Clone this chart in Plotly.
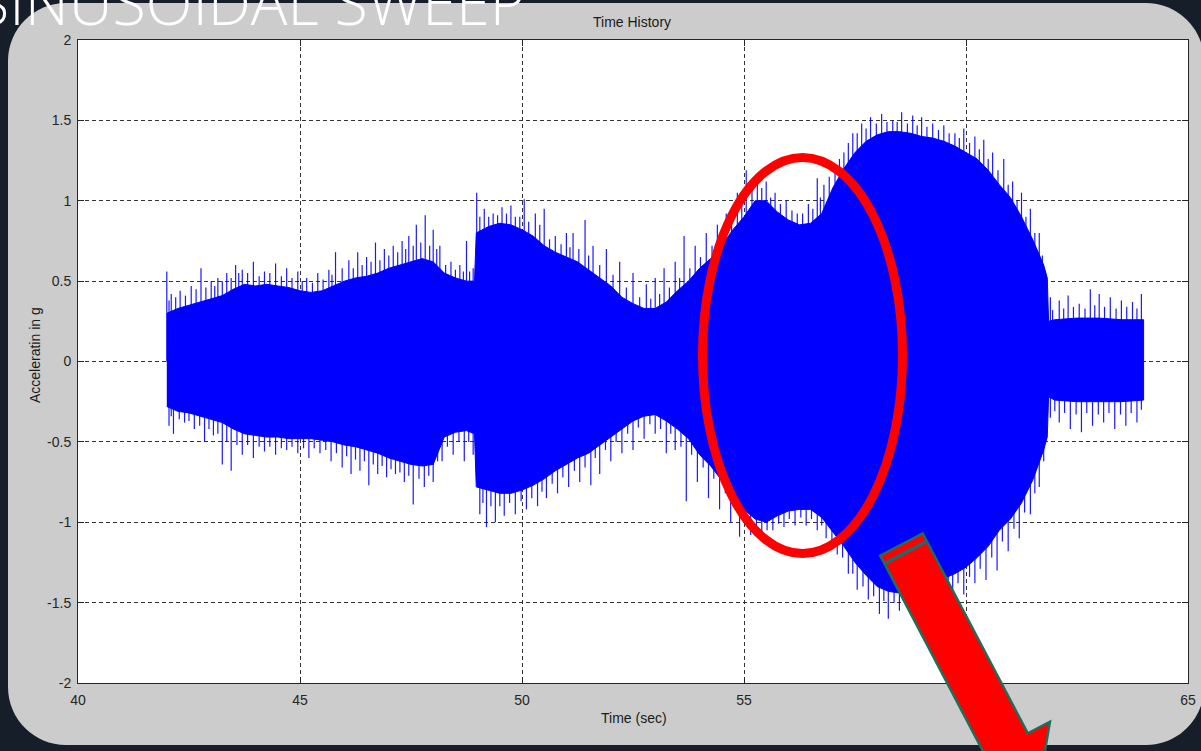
import plotly.graph_objects as go

W, H = 1201, 751

# ---------------- data ----------------
# solid envelope of the acceleration record
time_s = [42.00, 42.25, 42.50, 42.75, 43.00, 43.25, 43.50, 43.75, 44.00, 44.25,
          44.50, 44.75, 45.00, 45.25, 45.50, 45.75, 46.00, 46.25, 46.50, 46.75,
          47.00, 47.25, 47.50, 47.75, 48.00, 48.25, 48.50, 48.75, 48.93, 48.97,
          49.25, 49.50, 49.75, 50.00, 50.25, 50.50, 50.75, 51.00, 51.25, 51.50,
          51.75, 52.00, 52.25, 52.50, 52.75, 53.00, 53.25, 53.50, 53.75, 54.00,
          54.25, 54.50, 54.75, 55.00, 55.25, 55.50, 55.75, 56.00, 56.25, 56.50,
          56.75, 57.00, 57.25, 57.50, 57.75, 58.00, 58.25, 58.50, 58.75, 59.00,
          59.25, 59.50, 59.75, 60.00, 60.25, 60.50, 60.75, 61.00, 61.25, 61.50,
          61.75, 61.83, 61.86, 62.00, 62.50, 63.00, 63.50, 64.00]
upper_g = [0.30, 0.33, 0.35, 0.37, 0.39, 0.41, 0.45, 0.48, 0.47, 0.48,
           0.47, 0.46, 0.44, 0.43, 0.44, 0.47, 0.50, 0.52, 0.53, 0.55,
           0.58, 0.60, 0.62, 0.64, 0.62, 0.55, 0.52, 0.50, 0.50, 0.80,
           0.84, 0.86, 0.85, 0.82, 0.78, 0.72, 0.68, 0.65, 0.62, 0.57,
           0.52, 0.47, 0.40, 0.36, 0.33, 0.33, 0.37, 0.44, 0.50, 0.58,
           0.64, 0.72, 0.82, 0.90, 1.00, 1.00, 0.93, 0.88, 0.85, 0.86,
           0.92, 1.08, 1.20, 1.30, 1.37, 1.41, 1.43, 1.43, 1.42, 1.40,
           1.39, 1.37, 1.34, 1.30, 1.26, 1.19, 1.10, 1.02, 0.90, 0.76,
           0.60, 0.52, 0.25, 0.26, 0.27, 0.27, 0.26, 0.26]
lower_g = [-0.28, -0.31, -0.32, -0.34, -0.36, -0.38, -0.42, -0.45, -0.46, -0.47,
           -0.47, -0.48, -0.48, -0.48, -0.49, -0.50, -0.52, -0.53, -0.55, -0.57,
           -0.60, -0.62, -0.64, -0.65, -0.64, -0.47, -0.44, -0.43, -0.45, -0.78,
           -0.80, -0.82, -0.82, -0.80, -0.77, -0.73, -0.68, -0.64, -0.60, -0.57,
           -0.52, -0.47, -0.42, -0.37, -0.34, -0.33, -0.37, -0.42, -0.48, -0.58,
           -0.65, -0.74, -0.84, -0.92, -0.98, -1.00, -0.96, -0.93, -0.92, -0.92,
           -0.97, -1.06, -1.15, -1.25, -1.33, -1.40, -1.43, -1.44, -1.42, -1.40,
           -1.38, -1.35, -1.32, -1.28, -1.22, -1.15, -1.05, -0.98, -0.88, -0.74,
           -0.55, -0.47, -0.22, -0.24, -0.25, -0.25, -0.25, -0.24]

# tallest isolated peaks above the envelope
peak_up_t = [42.00, 42.10, 42.30, 42.55, 42.77, 43.00, 43.15, 43.35, 43.55, 43.70,
             43.95, 44.20, 44.45, 44.70, 44.95, 45.15, 45.40, 45.65, 45.80, 46.10,
             46.30, 46.50, 46.70, 46.90, 47.10, 47.30, 47.45, 47.62, 47.82, 48.00,
             48.15, 48.40, 48.60, 48.75, 48.90, 48.98, 49.15, 49.35, 49.55, 49.75,
             49.95, 50.05, 50.30, 50.50, 50.75, 51.00, 51.15, 51.42, 51.60, 51.90,
             52.20, 52.50, 52.80, 53.00, 53.20, 53.45, 53.65, 53.90, 54.15, 54.40,
             54.60, 54.85, 55.05, 55.30, 55.50, 55.70, 55.95, 56.20, 56.45, 56.65,
             56.80, 57.05, 57.25, 57.45, 57.65, 57.85, 58.10, 58.35, 58.55, 58.80,
             59.00, 59.25, 59.50, 59.75, 59.95, 60.20, 60.40, 60.60, 60.85, 61.05,
             61.25, 61.45, 61.65, 61.90, 62.10, 62.30, 62.55, 62.80, 63.00, 63.25,
             63.50, 63.75, 63.95]
peak_up_g = [0.56, 0.42, 0.44, 0.47, 0.58, 0.50, 0.52, 0.55, 0.60, 0.57,
             0.62, 0.56, 0.61, 0.58, 0.56, 0.52, 0.55, 0.57, 0.68, 0.63,
             0.68, 0.65, 0.74, 0.70, 0.72, 0.75, 0.78, 0.85, 0.91, 0.82,
             0.72, 0.62, 0.60, 0.75, 0.58, 1.05, 0.95, 0.92, 0.96, 0.97,
             0.90, 1.01, 0.92, 0.95, 0.78, 0.80, 0.80, 0.88, 0.72, 0.70,
             0.62, 0.55, 0.48, 0.52, 0.58, 0.62, 0.78, 0.72, 0.80, 0.85,
             0.92, 1.05, 1.19, 1.15, 1.12, 1.05, 1.00, 0.92, 0.98, 1.14,
             1.10, 1.22, 1.30, 1.42, 1.48, 1.52, 1.54, 1.50, 1.55, 1.53,
             1.52, 1.48, 1.47, 1.42, 1.45, 1.40, 1.38, 1.30, 1.26, 1.12,
             1.05, 0.95, 0.80, 0.40, 0.38, 0.41, 0.36, 0.45, 0.42, 0.40,
             0.38, 0.37, 0.42]

# smaller peaks fringing the upper edge
fringe_up_t = [42.05, 42.20, 42.42, 42.66, 42.88, 43.08, 43.25, 43.45, 43.62, 43.82,
               44.08, 44.32, 44.58, 44.82, 45.05, 45.28, 45.52, 45.72, 45.95, 46.20,
               46.40, 46.60, 46.80, 47.00, 47.20, 47.38, 47.55, 47.72, 47.92, 48.08,
               48.28, 48.50, 48.68, 48.82, 49.05, 49.25, 49.45, 49.65, 49.85, 50.15,
               50.40, 50.62, 50.88, 51.08, 51.28, 51.50, 51.75, 52.05, 52.35, 52.65,
               52.90, 53.10, 53.32, 53.55, 53.78, 54.02, 54.28, 54.50, 54.72, 54.95,
               55.18, 55.40, 55.60, 55.82, 56.08, 56.32, 56.55, 56.72, 56.92, 57.15,
               57.35, 57.55, 57.75, 57.98, 58.22, 58.45, 58.68, 58.90, 59.12, 59.38,
               59.62, 59.85, 60.08, 60.30, 60.50, 60.72, 60.95, 61.15, 61.35, 61.55,
               61.72, 61.95, 62.20, 62.42, 62.68, 62.90, 63.12, 63.38, 63.62, 63.85]
fringe_up_g = [0.38, 0.40, 0.41, 0.45, 0.46, 0.47, 0.50, 0.52, 0.55, 0.55,
               0.53, 0.55, 0.53, 0.52, 0.50, 0.49, 0.51, 0.54, 0.58, 0.58,
               0.60, 0.62, 0.63, 0.66, 0.68, 0.70, 0.72, 0.74, 0.72, 0.70,
               0.60, 0.57, 0.56, 0.56, 0.90, 0.90, 0.91, 0.92, 0.90, 0.87,
               0.85, 0.76, 0.73, 0.71, 0.70, 0.66, 0.60, 0.54, 0.46, 0.40,
               0.39, 0.42, 0.46, 0.52, 0.58, 0.65, 0.72, 0.79, 0.88, 0.98,
               1.07, 1.08, 1.02, 0.98, 0.94, 0.92, 0.95, 1.02, 1.15, 1.26,
               1.36, 1.42, 1.45, 1.48, 1.49, 1.49, 1.48, 1.47, 1.46, 1.44,
               1.42, 1.39, 1.36, 1.32, 1.26, 1.19, 1.10, 1.00, 0.90, 0.80,
               0.66, 0.32, 0.33, 0.34, 0.33, 0.35, 0.34, 0.33, 0.34, 0.33]

# deepest isolated peaks below the envelope
peak_dn_t = [42.05, 42.15, 42.40, 42.62, 42.85, 43.05, 43.25, 43.45, 43.70, 43.95,
             44.20, 44.45, 44.70, 44.95, 45.20, 45.45, 45.70, 45.95, 46.15, 46.35,
             46.55, 46.75, 46.95, 47.15, 47.35, 47.55, 47.80, 48.00, 48.20, 48.45,
             48.70, 48.90, 49.05, 49.20, 49.40, 49.60, 49.85, 50.10, 50.35, 50.55,
             50.80, 51.05, 51.30, 51.55, 51.75, 52.00, 52.25, 52.50, 52.75, 53.00,
             53.25, 53.45, 53.70, 53.95, 54.20, 54.45, 54.70, 54.90, 55.15, 55.40,
             55.65, 55.90, 56.15, 56.40, 56.65, 56.85, 57.10, 57.35, 57.55, 57.80,
             58.05, 58.25, 58.50, 58.75, 59.00, 59.25, 59.50, 59.70, 59.95, 60.20,
             60.45, 60.70, 60.95, 61.20, 61.45, 61.65, 61.90, 62.10, 62.35, 62.60,
             62.85, 63.10, 63.35, 63.60, 63.85]
peak_dn_g = [-0.40, -0.45, -0.38, -0.42, -0.50, -0.46, -0.64, -0.68, -0.58, -0.60,
             -0.56, -0.58, -0.55, -0.57, -0.60, -0.57, -0.62, -0.66, -0.70, -0.68,
             -0.77, -0.70, -0.72, -0.70, -0.75, -0.89, -0.78, -0.75, -0.62, -0.58,
             -0.62, -0.58, -0.95, -1.03, -1.00, -0.96, -0.95, -0.92, -0.90, -0.85,
             -0.82, -0.78, -0.75, -0.77, -0.70, -0.62, -0.57, -0.55, -0.48, -0.45,
             -0.57, -0.55, -0.87, -0.75, -0.85, -0.92, -1.00, -1.09, -1.08, -1.06,
             -1.05, -1.03, -1.02, -1.02, -1.05, -1.10, -1.20, -1.32, -1.42, -1.48,
             -1.57, -1.60, -1.55, -1.53, -1.50, -1.50, -1.46, -1.42, -1.45, -1.38,
             -1.36, -1.30, -1.18, -1.10, -0.95, -0.78, -0.35, -0.38, -0.42, -0.44,
             -0.40, -0.38, -0.42, -0.40, -0.38]

# smaller peaks fringing the lower edge
fringe_dn_t = [42.10, 42.28, 42.50, 42.74, 42.95, 43.15, 43.35, 43.58, 43.82, 44.08,
               44.32, 44.58, 44.82, 45.08, 45.32, 45.58, 45.82, 46.05, 46.25, 46.45,
               46.65, 46.85, 47.05, 47.25, 47.45, 47.68, 47.90, 48.10, 48.32, 48.58,
               48.80, 49.12, 49.30, 49.50, 49.72, 49.98, 50.22, 50.45, 50.68, 50.92,
               51.18, 51.42, 51.65, 51.88, 52.12, 52.38, 52.62, 52.88, 53.12, 53.35,
               53.58, 53.82, 54.08, 54.32, 54.58, 54.80, 55.02, 55.28, 55.52, 55.78,
               56.02, 56.28, 56.52, 56.75, 56.98, 57.22, 57.45, 57.68, 57.92, 58.15,
               58.38, 58.62, 58.88, 59.12, 59.38, 59.60, 59.82, 60.08, 60.32, 60.58,
               60.82, 61.08, 61.32, 61.55, 61.75, 62.00, 62.22, 62.48, 62.72, 62.98,
               63.22, 63.48, 63.72, 63.95]
fringe_dn_g = [-0.34, -0.36, -0.37, -0.40, -0.42, -0.45, -0.50, -0.52, -0.52, -0.53,
               -0.53, -0.54, -0.53, -0.54, -0.54, -0.55, -0.57, -0.59, -0.61, -0.62,
               -0.64, -0.65, -0.67, -0.69, -0.71, -0.73, -0.71, -0.62, -0.53, -0.50,
               -0.50, -0.88, -0.90, -0.90, -0.88, -0.87, -0.85, -0.81, -0.76, -0.72,
               -0.68, -0.66, -0.60, -0.55, -0.50, -0.45, -0.41, -0.39, -0.42, -0.45,
               -0.53, -0.58, -0.66, -0.73, -0.82, -0.92, -0.99, -1.04, -1.05, -1.01,
               -0.98, -0.97, -0.98, -1.02, -1.12, -1.22, -1.32, -1.40, -1.46, -1.49,
               -1.50, -1.49, -1.47, -1.45, -1.42, -1.40, -1.38, -1.34, -1.29, -1.22,
               -1.12, -1.04, -0.94, -0.82, -0.62, -0.31, -0.32, -0.33, -0.32, -0.33,
               -0.32, -0.33, -0.32, -0.30]

x_tick_vals = [40, 45, 50, 55, 60, 65]
x_tick_text = ["40", "45", "50", "55", "60", "65"]
y_tick_vals = [-2, -1.5, -1, -0.5, 0, 0.5, 1, 1.5, 2]
y_tick_text = ["-2", "-1.5", "-1", "-0.5", "0", "0.5", "1", "1.5", "2"]

# ---------------- helpers (pixel -> paper) ----------------
def px(x):
    return x / W


def py(y):
    return 1 - y / H


def P(x, y):
    return f"{px(x):.5f},{py(y):.5f}"


def rounded_rect(x0, y0, x1, y1, r):
    k = 0.5523 * r
    return (f"M{P(x0 + r, y0)} L{P(x1 - r, y0)} "
            f"C{P(x1 - r + k, y0)} {P(x1, y0 + r - k)} {P(x1, y0 + r)} "
            f"L{P(x1, y1 - r)} "
            f"C{P(x1, y1 - r + k)} {P(x1 - r + k, y1)} {P(x1 - r, y1)} "
            f"L{P(x0 + r, y1)} "
            f"C{P(x0 + r - k, y1)} {P(x0, y1 - r + k)} {P(x0, y1 - r)} "
            f"L{P(x0, y0 + r)} "
            f"C{P(x0, y0 + r - k)} {P(x0 + r - k, y0)} {P(x0 + r, y0)} Z")


def segments(ts, vs):
    xs, ys = [], []
    for t, v in zip(ts, vs):
        xs += [t, t, None]
        ys += [0, v, None]
    return xs, ys


# plot frame in pixels
L, R, T, B = 78, 1188, 40, 683

# ---------------- traces ----------------
fig = go.Figure()

fig.add_trace(go.Scatter(
    x=time_s + time_s[::-1],
    y=upper_g + lower_g[::-1],
    fill="toself", fillcolor="#0000ff",
    line=dict(color="#0000ff", width=1),
    mode="lines", hoverinfo="skip", showlegend=False))

for ts, vs in [(fringe_up_t, fringe_up_g), (fringe_dn_t, fringe_dn_g),
               (peak_up_t, peak_up_g), (peak_dn_t, peak_dn_g)]:
    sx, sy = segments(ts, vs)
    fig.add_trace(go.Scatter(
        x=sx, y=sy, mode="lines",
        line=dict(color="rgba(0,0,255,0.9)", width=1.2),
        hoverinfo="skip", showlegend=False))

# ---------------- shapes ----------------
shapes = []
shapes.append(dict(type="path", xref="paper", yref="paper", layer="below",
                   path=rounded_rect(8, 3, 1204, 745, 58),
                   fillcolor="#cccccc", line=dict(width=0)))
shapes.append(dict(type="rect", xref="paper", yref="paper", layer="below",
                   x0=px(L), x1=px(R), y0=py(B), y1=py(T),
                   fillcolor="white", line=dict(width=0)))
shapes.append(dict(type="circle", xref="paper", yref="paper", layer="above",
                   x0=px(702.5), x1=px(902.5), y0=py(553.5), y1=py(157.5),
                   line=dict(color="#ff0000", width=9)))

dxv, dyv = 0.465, 0.885
nxv, nyv = 0.885, -0.465
cx, cy = 901.5, 544.5
hw, hb, shaft_len, head_len = 24, 49, 226, 64


def pt(a, b):
    return (cx + a * dxv + b * nxv, cy + a * dyv + b * nyv)


pts = [pt(0, -hw), pt(0, hw), pt(shaft_len, hw), pt(shaft_len, hb),
       pt(shaft_len + head_len, 0), pt(shaft_len, -hb), pt(shaft_len, -hw)]
arrow_path = "M" + " L".join(P(x, y) for x, y in pts) + " Z"
shapes.append(dict(type="path", xref="paper", yref="paper", layer="above",
                   path=arrow_path, fillcolor="#ff0000",
                   line=dict(color="#1d6e5a", width=2.5)))
a1, a2 = pt(9, -hw), pt(9, hw)
shapes.append(dict(type="line", xref="paper", yref="paper", layer="above",
                   x0=px(a1[0]), y0=py(a1[1]), x1=px(a2[0]), y1=py(a2[1]),
                   line=dict(color="#1d6e5a", width=3.5)))
shapes.append(dict(type="line", xref="paper", yref="paper", layer="above",
                   x0=px(a1[0]), y0=py(a1[1]), x1=px(a2[0]), y1=py(a2[1]),
                   line=dict(color="#3a55a8", width=0.8)))

# ---------------- annotations ----------------
txt_font = dict(family="Liberation Sans, Arial, sans-serif", size=14, color="#1a1a1a")
annotations = [
    dict(text="Time History", x=px(632), y=py(22), xref="paper", yref="paper",
         xanchor="center", yanchor="middle", showarrow=False, font=txt_font),
    dict(text="Time (sec)", x=px(634), y=py(718), xref="paper", yref="paper",
         xanchor="center", yanchor="middle", showarrow=False, font=txt_font),
    dict(text="Acceleratin in g", x=px(35), y=py(355), xref="paper", yref="paper",
         xanchor="center", yanchor="middle", textangle=-90, showarrow=False,
         font=txt_font),
    dict(text="SINUSOIDAL SWEEP", x=px(-26), y=py(2), xref="paper", yref="paper",
         xanchor="left", yanchor="middle", showarrow=False,
         font=dict(family="Open Sans, Lato, sans-serif", size=61, color="white",
                   weight=300)),
]

axis_common = dict(
    showline=True, linecolor="#262626", linewidth=1, mirror="allticks",
    ticks="inside", ticklen=6, tickcolor="#262626", tickwidth=1,
    showgrid=True, gridcolor="#333333", gridwidth=1, griddash="4px,3px",
    zeroline=False, automargin=False,
    tickfont=dict(family="Liberation Sans, Arial, sans-serif", size=14, color="#262626"),
    fixedrange=True,
)

fig.update_layout(
    width=W, height=H, autosize=False,
    margin=dict(l=0, r=0, t=0, b=0, pad=0, autoexpand=False),
    paper_bgcolor="#161e29",
    plot_bgcolor="white",
    xaxis=dict(domain=[px(L), px(R)], range=[40, 65], tickvals=x_tick_vals,
               ticktext=x_tick_text, ticklabelstandoff=4, **axis_common),
    yaxis=dict(domain=[py(B), py(T)], range=[-2, 2], tickvals=y_tick_vals,
               ticktext=y_tick_text, ticklabelstandoff=3, **axis_common),
    shapes=shapes,
    annotations=annotations,
    showlegend=False,
)

fig.write_html(
    "out.html",
    config={"responsive": False, "displayModeBar": False},
)
